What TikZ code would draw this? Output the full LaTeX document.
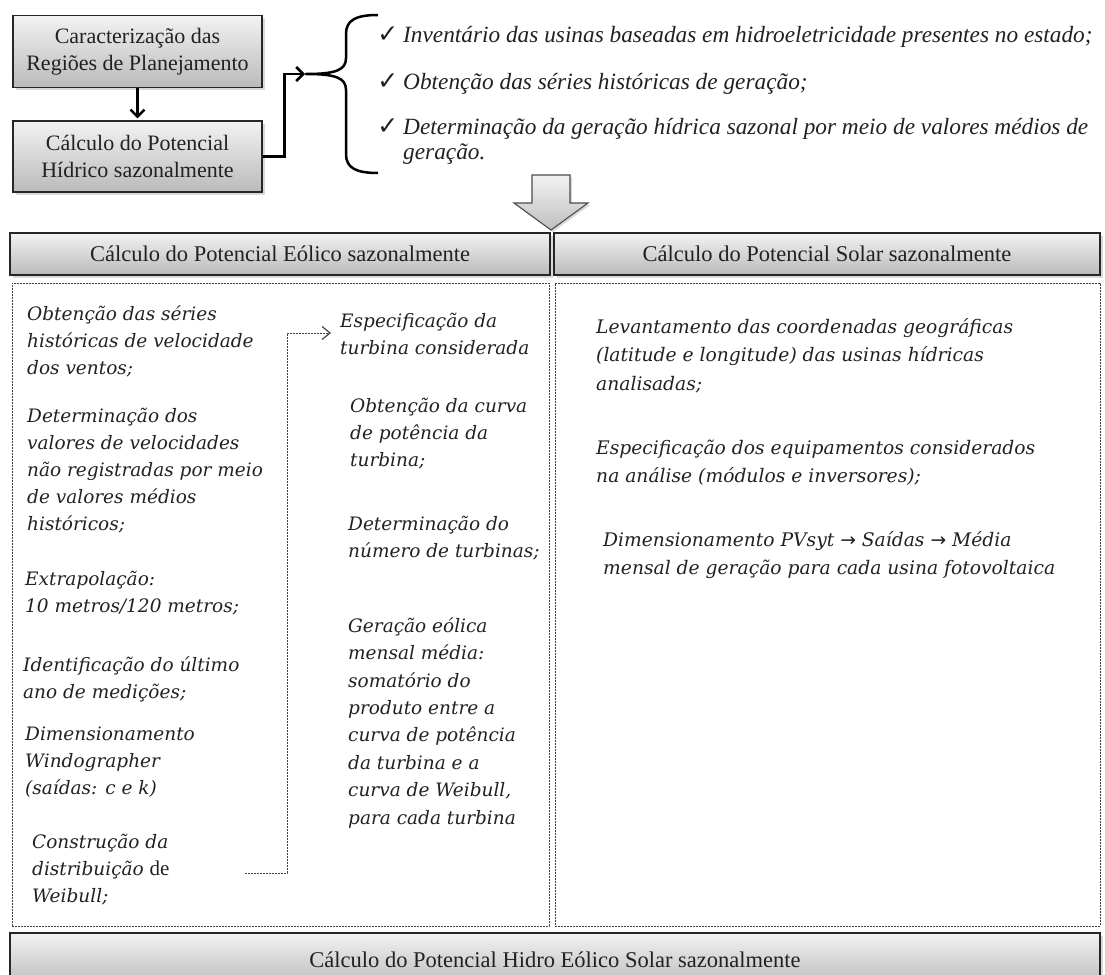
\documentclass[tikz,border=0pt]{standalone}
\usepackage{fontspec}
\setmainfont{Liberation Serif}
\newfontfamily\itf{DejaVu Serif}
\newfontfamily\symfont{DejaVu Sans}
\usetikzlibrary{arrows.meta,shadows}
\newcommand\tstr{\rule{0pt}{18pt}}
\newcommand\tstrc{\rule{0pt}{20pt}}
\newcommand\ck{{\symfont\upshape\fontsize{25}{25}\selectfont ✓\hspace{5pt}}}
\newcommand\rar{{\symfont\upshape →}}
\definecolor{txt}{gray}{0.13}
\begin{document}
\begin{tikzpicture}[x=1pt,y=-1pt,
  gbox/.style={draw=black!85, line width=1.3pt, top color=black!5, bottom color=black!27,
    drop shadow={shadow xshift=2.5pt, shadow yshift=-2.5pt, opacity=0.3},
    font=\fontsize{22}{26.5}\selectfont, align=center, inner sep=0, text=txt},
  hbox/.style={gbox, font=\fontsize{22.5}{26.5}\selectfont},
  dbox/.style={draw=black!75, line width=0.9pt, dash pattern=on 2pt off 1pt},
  para/.style={anchor=north west, inner sep=0, align=left,
    font=\itf\itshape\fontsize{18.5}{27}\selectfont, text=txt},
  spara/.style={para, font=\itf\itshape\fontsize{18.7}{28.5}\selectfont},
  chk/.style={anchor=north west, inner sep=0, align=left,
    font=\itshape\fontsize{23.3}{25}\selectfont, text=txt},
  barrow/.style={line width=2.5pt, -{Straight Barb[length=7pt,width=14pt]}},
  dconn/.style={line width=0.9pt, black!75, dash pattern=on 2pt off 1pt,
    -{Straight Barb[length=8pt,width=13pt,line width=1.2pt,sep=0pt]}},
  bigarrow/.style={draw=black!70, line width=1.1pt, top color=black!5, bottom color=black!25,
    drop shadow={shadow xshift=2pt, shadow yshift=-2pt, opacity=0.3}},
  bracestyle/.style={line width=2.5pt, line join=round}
]
\useasboundingbox (0,0) rectangle (1105,974);
\clip (0,0) rectangle (1105,974);

% top boxes
\node[gbox, minimum width=249pt, minimum height=72pt] (b1) at (137.5,51.5) {Caracterização das\\Regiões de Planejamento};
\node[gbox, minimum width=249pt, minimum height=71pt] (b2) at (137.5,156.5) {Cálculo do Potencial\\Hídrico sazonalmente};
\draw[barrow, shorten >=2pt] (b1.south) -- (b2.north);

% brace and connector
\coordinate (brtip) at (305,74);
\draw[barrow] (b2.east) -- ++(22,0) |- (brtip);
\draw[bracestyle] (378,15) .. controls (356,15) and (346,20) .. (346,34) -- (346,58)
  .. controls (346,70) and (336,74) .. (306,74)
  .. controls (336,74) and (346,78) .. (346,90) -- (346,154)
  .. controls (346,168) and (356,173) .. (378,173);

% check list
\node[chk] (k1) at (403,22) {\llap{\ck}\tstrc Inventário das usinas baseadas em hidroeletricidade presentes no estado;};
\node[chk] (k2) at (403,69) {\llap{\ck}\tstrc Obtenção das séries históricas de geração;};
\node[chk] (k3) at (403,114) {\llap{\ck}\tstrc Determinação da geração hídrica sazonal por meio de valores médios de\\geração.};

% big down arrow
\path[bigarrow] (532,175) -- (570,175) -- (570,203) -- (588,203) -- (551,230) -- (514,203) -- (532,203) -- cycle;

% headers
\node[hbox, minimum width=540pt, minimum height=42pt] (he) at (280,254) {Cálculo do Potencial Eólico sazonalmente};
\node[hbox, minimum width=546pt, minimum height=42pt] (hs) at (827,254) {Cálculo do Potencial Solar sazonalmente};

% dashed panels
\node[dbox, minimum width=537pt, minimum height=643pt] (de) at (280.5,604.5) {};
\node[dbox, minimum width=545pt, minimum height=643pt] (ds) at (827.5,604.5) {};

% left column
\node[para] (p1) at (27,302) {\tstr Obtenção das séries\\históricas de velocidade\\dos ventos;};
\node[para] (p2) at (27,404) {\tstr Determinação dos\\valores de velocidades\\não registradas por meio\\de valores médios\\históricos;};
\node[para] (p3) at (25,567) {\tstr Extrapolação:\\10 metros/120 metros;};
\node[para] (p4) at (23,653) {\tstr Identificação do último\\ano de medições;};
\node[para] (p5) at (25,722) {\tstr Dimensionamento\\Windographer\\(saídas: c e k)};
\node[para] (p6) at (32,830) {\tstr Construção da\\distribuição {\rmfamily\upshape\fontsize{21}{27}\selectfont de}\\Weibull;};

% middle column
\node[para] (m1) at (340,309) {\tstr Especificação da\\turbina considerada};
\node[para] (m2) at (350,394) {\tstr Obtenção da curva\\de potência da\\turbina;};
\node[para] (m3) at (348,512) {\tstr Determinação do\\número de turbinas;};
\node[para, font=\itf\itshape\fontsize{18.5}{27.4}\selectfont] (m4) at (348,614) {\tstr Geração eólica\\mensal média:\\somatório do\\produto entre a\\curva de potência\\da turbina e a\\curva de Weibull,\\para cada turbina};

% dashed connector
\coordinate (wc) at (245,873);
\coordinate (cor) at (287,873);
\coordinate (et) at (331,333);
\draw[dconn] (wc) -- (cor) |- (et);

% solar column
\node[spara] (s1) at (596,315) {\tstr Levantamento das coordenadas geográficas\\(latitude e longitude) das usinas hídricas\\analisadas;};
\node[spara] (s2) at (596,436) {\tstr Especificação dos equipamentos considerados\\na análise (módulos e inversores);};
\node[spara] (s3) at (603,528) {\tstr Dimensionamento PVsyt \rar{} Saídas \rar{} Média\\mensal de geração para cada usina fotovoltaica};

% bottom box
\node[hbox, minimum width=1090pt, minimum height=54pt] (hb) at (555,960) {Cálculo do Potencial Hidro Eólico Solar sazonalmente};
\end{tikzpicture}
\end{document}
